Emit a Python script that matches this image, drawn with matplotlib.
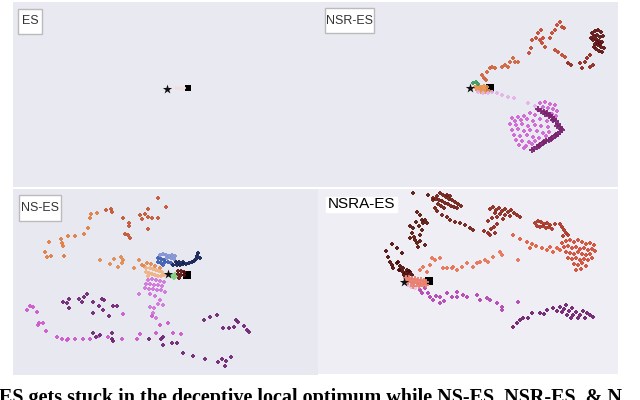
import matplotlib
matplotlib.use('Agg')
import matplotlib.pyplot as plt
from matplotlib.patches import Rectangle

# ---- data: behaviour points (image pixel coordinates) ----

# ES panel
es_start = [(167, 89)]
es_end = [(188, 88)]
es_pink = [(176, 88), (179, 88), (182, 89), (184, 88)]

# NSR-ES panel
nsr_start = [(470, 88)]
nsr_end = [(490, 88)]
nsr_green = [(473, 83), (476, 82), (478, 84)]
nsr_orange = [(475, 87), (478, 86), (481, 87), (484, 86), (487, 87), (477, 90), (480, 89),
              (483, 90), (486, 89), (489, 91), (481, 92), (485, 92)]
nsr_red1 = [(482, 75), (487, 72), (490, 68), (492, 67), (495, 68), (502, 67), (505, 65),
            (508, 67), (510, 62), (513, 58), (515, 62), (518, 62), (484, 78), (486, 80)]
nsr_red2 = [(529, 53), (531, 48), (532, 40), (536, 38), (538, 33), (541, 30), (540, 40),
            (542, 43), (545, 47), (543, 38), (550, 38), (552, 33), (555, 30), (557, 25),
            (560, 22), (562, 27), (564, 28), (555, 50), (558, 52), (562, 55), (565, 57)]
nsr_red3 = [(568, 63), (571, 65), (580, 63), (582, 68), (587, 58), (590, 55), (590, 67),
            (593, 65), (585, 62)]
nsr_red4 = [(592, 33), (595, 31), (598, 30), (601, 32), (594, 36), (597, 35), (600, 37),
            (603, 36), (593, 40), (596, 39), (599, 41), (602, 42), (595, 44), (598, 45),
            (601, 47), (604, 48), (596, 49), (599, 51), (602, 52), (594, 47), (600, 44),
            (597, 42), (591, 38)]
nsr_pink = [(478, 92), (483, 93), (488, 93), (492, 92), (497, 93), (502, 95), (508, 97),
            (514, 98), (528, 103), (535, 106)]
nsr_magenta = [(540, 103), (545, 102), (550, 104), (555, 105), (543, 107), (548, 108),
               (553, 109), (557, 111), (538, 110), (546, 112), (552, 114), (556, 116),
               (530, 113), (535, 115), (524, 116), (518, 117), (512, 118), (515, 121),
               (521, 120), (527, 119), (533, 121), (540, 119), (547, 121), (552, 120),
               (510, 124), (516, 125), (522, 124), (528, 126), (535, 125), (541, 126),
               (548, 127), (512, 130), (518, 129), (524, 131), (530, 130), (537, 131),
               (543, 133), (549, 132), (514, 135), (520, 136), (527, 135), (533, 137),
               (539, 138), (546, 136), (516, 140), (522, 141), (529, 142), (535, 141),
               (519, 145), (526, 146), (532, 144), (524, 148)]
nsr_purple = [(538, 109), (541, 111), (544, 112), (547, 113), (550, 115), (552, 117),
              (554, 119), (556, 121), (558, 124), (560, 127), (562, 130), (560, 132),
              (558, 134), (555, 136), (552, 138), (549, 140), (546, 141), (543, 143),
              (540, 145), (537, 147), (534, 149), (532, 150), (545, 114), (549, 116),
              (553, 120), (557, 126), (561, 129), (556, 135), (551, 139), (544, 142),
              (539, 146)]

# NS-ES panel
ns_start = [(168, 274)]
ns_end = [(187, 275)]
ns_orange_left = [(45, 252), (51, 256), (47, 257), (49, 242), (61, 239), (62, 243),
                  (63, 246), (64, 256), (68, 236), (75, 236), (84, 234), (88, 228),
                  (90, 218), (91, 214), (97, 213)]
ns_orange_top = [(106, 210), (111, 209), (112, 212), (123, 218), (129, 223), (129, 226),
                 (125, 234), (128, 235), (130, 238), (140, 215), (142, 219), (145, 214),
                 (148, 209), (148, 217), (148, 229), (152, 218), (158, 218), (158, 198),
                 (166, 207)]
ns_orange_mid = [(100, 260), (110, 264), (114, 259), (118, 267), (121, 257), (123, 260),
                 (122, 263), (134, 268), (139, 260), (142, 265), (144, 266), (147, 263),
                 (151, 264), (155, 266), (160, 268)]
ns_orange_light = [(146, 268), (150, 268), (153, 269), (156, 270), (159, 271), (162, 272),
                   (146, 272), (149, 273), (152, 274), (155, 275), (158, 276), (161, 276),
                   (164, 275), (148, 276)]
ns_blue_light = [(160, 255), (163, 254), (166, 255), (169, 256), (172, 255), (175, 256),
                 (167, 258), (171, 258), (174, 259)]
ns_blue = [(158, 258), (161, 259), (164, 260), (158, 262), (161, 263), (165, 262),
           (168, 262), (171, 263), (163, 265)]
ns_navy = [(173, 265), (177, 265), (180, 265), (183, 264), (186, 264), (189, 263),
           (192, 262), (194, 261), (196, 259), (197, 256), (198, 253), (200, 258),
           (176, 262), (179, 262), (183, 262)]
ns_green = [(172, 276), (174, 278), (176, 276), (175, 274)]
ns_darkred = [(178, 271), (181, 271), (184, 272), (178, 274), (181, 275), (184, 275),
              (179, 278)]
ns_magenta_near = [(148, 280), (152, 279), (156, 280), (160, 281), (164, 282), (146, 284),
                   (150, 284), (154, 285), (158, 285), (162, 286), (145, 288), (149, 289),
                   (153, 289), (157, 290), (161, 290), (165, 292), (150, 294), (155, 296),
                   (160, 300), (163, 305), (158, 304), (154, 308), (153, 313), (156, 318),
                   (150, 307), (139, 294)]
ns_magenta = [(152, 316), (160, 325), (168, 323), (156, 333), (173, 333), (181, 334),
              (140, 334), (137, 339), (122, 339), (108, 337), (99, 336), (90, 339),
              (83, 339), (75, 339), (68, 339), (67, 340), (62, 339), (57, 337), (46, 331),
              (43, 323), (39, 323), (38, 325), (37, 312), (33, 307), (30, 306), (27, 310),
              (123, 314)]
ns_purple = [(63, 302), (67, 303), (69, 299), (69, 308), (79, 299), (82, 302), (84, 297),
             (87, 294), (93, 302), (93, 313), (99, 306), (102, 299), (104, 300), (103, 310),
             (109, 316), (113, 306), (117, 306), (93, 333), (96, 337), (100, 335),
             (112, 333), (112, 339), (113, 341), (149, 339), (163, 337), (161, 339),
             (163, 345), (172, 343), (177, 343), (183, 353), (193, 356), (205, 359),
             (218, 362), (222, 359), (226, 361), (225, 366), (231, 357), (204, 320),
             (210, 317), (217, 315), (223, 328), (229, 328), (234, 327), (236, 320),
             (238, 322), (244, 326), (247, 330), (249, 332)]

# NSRA-ES panel
nsra_start = [(404, 282)]
nsra_end = [(429, 281)]
nsra_salmon = [(406, 278), (409, 278), (412, 279), (415, 279), (418, 280), (421, 280),
               (424, 281), (426, 282), (408, 282), (411, 282), (414, 283), (417, 283),
               (420, 284), (423, 284), (426, 285), (413, 286), (419, 286)]
nsra_palepink = [(408, 285), (411, 287), (415, 288)]
nsra_darkbrown = [(388, 257), (390, 262), (392, 265), (393, 268), (397, 248), (398, 262),
                  (402, 253), (400, 270), (403, 272), (407, 270), (410, 272), (408, 275),
                  (412, 275), (397, 263), (400, 266), (403, 268), (406, 273), (409, 271),
                  (404, 275), (399, 270), (386, 251), (392, 244)]
nsra_brown_up = [(410, 238), (412, 233), (413, 228), (415, 240), (417, 243), (418, 247),
                 (420, 235), (422, 230), (423, 223), (422, 220), (425, 220), (427, 223),
                 (425, 245), (417, 212), (420, 215), (413, 193), (428, 195), (410, 226),
                 (416, 222), (419, 226), (414, 237), (420, 241)]
nsra_brown_top = [(437, 196), (440, 193), (443, 195), (446, 197), (449, 199), (452, 200),
                  (455, 202), (458, 204), (461, 206), (439, 200), (442, 201), (445, 203),
                  (448, 204), (451, 206), (454, 207), (441, 206), (444, 208), (447, 195),
                  (450, 196), (438, 204), (436, 199), (433, 200), (435, 208), (457, 208),
                  (442, 215), (447, 217), (450, 220), (455, 222), (460, 223), (465, 225),
                  (470, 228), (473, 230), (437, 211), (433, 198)]
nsra_redbrown = [(490, 209), (493, 207), (496, 210), (499, 208), (502, 211), (505, 209),
                 (508, 212), (511, 210), (514, 213), (517, 215), (520, 217), (495, 213),
                 (500, 214), (505, 215), (510, 216), (497, 217), (503, 219), (492, 218),
                 (488, 221), (484, 231), (488, 233), (491, 229), (494, 227), (497, 224),
                 (490, 235), (495, 233)]
nsra_red = [(535, 223), (538, 221), (541, 222), (544, 224), (547, 223), (550, 225),
            (537, 226), (540, 227), (543, 226), (546, 228), (549, 227), (552, 229),
            (555, 224), (560, 224), (562, 227), (564, 230), (566, 233), (568, 235),
            (563, 236)]
nsra_orange_trail = [(513, 235), (520, 239), (527, 242), (532, 244), (530, 248),
                     (542, 248), (547, 250), (553, 252), (560, 250), (550, 247),
                     (536, 246), (557, 248)]
nsra_orange = [(562, 243), (566, 241), (570, 240), (574, 242), (578, 240), (582, 242),
               (586, 244), (590, 243), (594, 245), (564, 247), (568, 246), (572, 248),
               (576, 247), (580, 249), (584, 248), (588, 250), (592, 249), (566, 252),
               (570, 253), (574, 254), (578, 252), (582, 254), (586, 255), (590, 254),
               (568, 258), (572, 259), (576, 258), (580, 260), (584, 259), (588, 260),
               (574, 264), (578, 265), (582, 263), (586, 266), (581, 269), (576, 270),
               (595, 251), (592, 258)]
nsra_salmon_trail = [(420, 270), (423, 267), (427, 272), (432, 258), (435, 260),
                     (440, 258), (447, 268), (452, 268), (457, 270), (462, 267),
                     (467, 263), (473, 267), (477, 263), (480, 262), (485, 260),
                     (488, 262), (493, 257), (500, 252), (502, 255), (518, 260),
                     (453, 267), (430, 265), (443, 268)]
nsra_magenta = [(420, 290), (422, 293), (425, 288), (430, 297), (433, 300), (440, 303),
                (447, 293), (452, 297), (457, 292), (463, 295), (467, 297), (477, 295),
                (480, 300), (487, 298), (490, 300), (497, 303), (502, 307), (502, 310),
                (518, 302), (440, 297), (457, 297), (428, 293), (436, 296), (444, 301)]
nsra_purple = [(513, 327), (517, 323), (520, 320), (523, 318), (528, 318), (532, 313),
               (540, 313), (547, 310), (553, 308), (560, 307), (562, 312), (567, 315),
               (573, 315), (580, 315), (587, 313), (593, 317), (564, 309), (569, 311),
               (571, 318), (576, 312), (578, 318), (583, 311), (585, 318), (590, 315),
               (566, 305), (572, 308), (557, 311), (544, 314)]

caption = "ES gets stuck in the deceptive local optimum while NS-ES, NSR-ES, & N"


def xs(pts):
    return [p[0] for p in pts]


def ys(pts):
    return [p[1] for p in pts]


fig = plt.figure(figsize=(6.4, 4.0), dpi=100)


def add_panel(x0, y0, x1, y1, bg):
    ax = fig.add_axes([x0 / 640, 1 - y1 / 400, (x1 - x0) / 640, (y1 - y0) / 400])
    ax.set_xlim(x0, x1)
    ax.set_ylim(y1, y0)
    ax.set_facecolor(bg)
    ax.set_xticks([])
    ax.set_yticks([])
    for s in ax.spines.values():
        s.set_visible(False)
    return ax


def pts(ax, p, color, s=11):
    ax.scatter(xs(p), ys(p), s=s, marker='P', c=color, linewidths=0, alpha=0.9, zorder=3)


def label(ax, x0, y0, w, h, text, size=9, border=True, color='#333333'):
    ax.add_patch(Rectangle((x0, y0), w, h, facecolor='white',
                           edgecolor='#bbbbbb' if border else 'white', lw=1, zorder=5))
    ax.text(x0 + w / 2, y0 + h / 2, text, ha='center', va='center', fontsize=size,
            color=color, family='Liberation Sans', zorder=6)


def start_end(ax, start, end, sq=40):
    ax.scatter(xs(end), ys(end), s=sq, marker='s', c='black', linewidths=0, zorder=2)
    ax.scatter(xs(start), ys(start), s=50, marker='*', c='#111111', linewidths=0, zorder=7)


# ES
ax = add_panel(13, 2, 318, 187, '#e9e9f1')
start_end(ax, es_start, es_end, sq=25)
pts(ax, es_pink, '#f0dede', s=8)
label(ax, 18, 9, 24, 25, 'ES')

# NSR-ES
ax = add_panel(318, 2, 618, 187, '#e9e9f1')
start_end(ax, nsr_start, nsr_end)
pts(ax, nsr_orange, '#e8904a')
pts(ax, nsr_green, '#3a9a5a')
pts(ax, nsr_red1, '#d0603a')
pts(ax, nsr_red2, '#c0452a')
pts(ax, nsr_red3, '#8c2418')
pts(ax, nsr_red4, '#5a0e0c')
pts(ax, nsr_pink, '#e4b0e4')
pts(ax, nsr_magenta, '#d060d4')
pts(ax, nsr_purple, '#7a2470', s=18)
label(ax, 325, 8, 49, 25, 'NSR-ES')

# NS-ES
ax = add_panel(13, 189, 318, 375, '#e8e8f0')
start_end(ax, ns_start, ns_end)
pts(ax, ns_orange_left, '#e07a3f')
pts(ax, ns_orange_top, '#c4502f')
pts(ax, ns_orange_mid, '#e0884c')
pts(ax, ns_orange_light, '#f0b080')
pts(ax, ns_blue_light, '#8090d0')
pts(ax, ns_blue, '#3a5ab0')
pts(ax, ns_navy, '#101e50')
pts(ax, ns_green, '#80d080')
pts(ax, ns_darkred, '#5a1410')
pts(ax, ns_magenta_near, '#d070dc')
pts(ax, ns_magenta, '#cc55cc')
pts(ax, ns_purple, '#6b2070')
label(ax, 19, 195, 42, 26, 'NS-ES')

# NSRA-ES
ax = add_panel(318, 189, 618, 374, '#eeeef4')
start_end(ax, nsra_start, nsra_end, sq=35)
pts(ax, nsra_darkbrown, '#4a0a08')
pts(ax, nsra_brown_up, '#551208')
pts(ax, nsra_brown_top, '#6b1a10')
pts(ax, nsra_redbrown, '#8a2418')
pts(ax, nsra_red, '#a83020')
pts(ax, nsra_orange_trail, '#e05a3a')
pts(ax, nsra_orange, '#d04830')
pts(ax, nsra_salmon_trail, '#e87050')
pts(ax, nsra_magenta, '#b040b0')
pts(ax, nsra_purple, '#6a1a6a')
pts(ax, nsra_palepink, '#e8c0e4')
pts(ax, nsra_salmon, '#e88070', s=16)
label(ax, 326, 197, 71, 15, 'NSRA-ES', size=11, border=False, color='black')

fig.text(-0.002, 1 - 388 / 400, caption, ha='left', va='top', fontsize=14.5,
         fontweight='bold', family='Liberation Serif')

plt.savefig('out.png', dpi=100)
